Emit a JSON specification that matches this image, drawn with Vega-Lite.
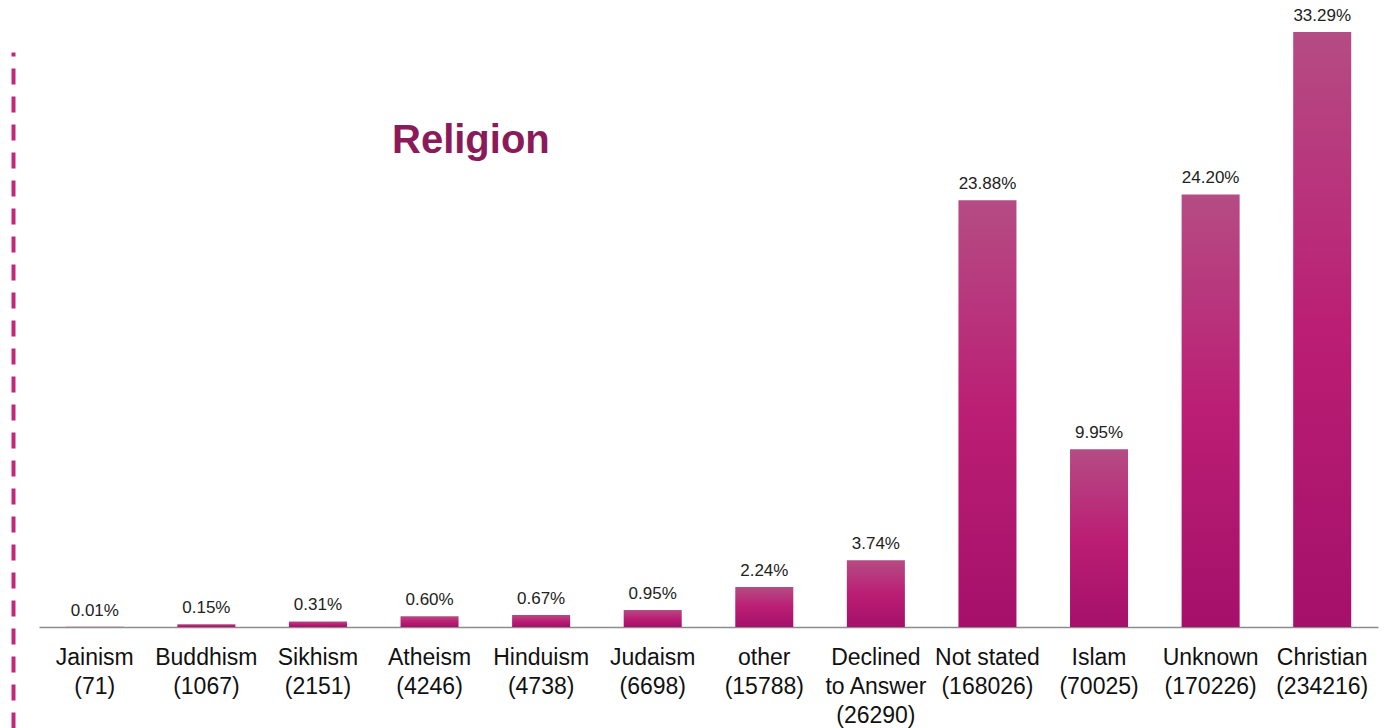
{
  "$schema": "https://vega.github.io/schema/vega-lite/v6.json",
  "width": 1339,
  "height": 676,
  "autosize": "none",
  "padding": {"left": 39, "top": 52, "right": 10, "bottom": 0},
  "background": "white",
  "config": {"view": {"stroke": null}, "font": "Liberation Sans"},
  "title": {
    "text": "Religion",
    "fontSize": 40,
    "fontWeight": "bold",
    "color": "#8a1a5a",
    "font": "Liberation Sans",
    "frame": "group",
    "anchor": "start",
    "baseline": "alphabetic",
    "offset": 0,
    "dx": 353,
    "dy": 186
  },
  "data": {
    "values": [
      {"religion": "Jainism|(71)", "pct": 0.01, "label": "0.01%"},
      {"religion": "Buddhism|(1067)", "pct": 0.15, "label": "0.15%"},
      {"religion": "Sikhism|(2151)", "pct": 0.31, "label": "0.31%"},
      {"religion": "Atheism|(4246)", "pct": 0.60, "label": "0.60%"},
      {"religion": "Hinduism|(4738)", "pct": 0.67, "label": "0.67%"},
      {"religion": "Judaism|(6698)", "pct": 0.95, "label": "0.95%"},
      {"religion": "other|(15788)", "pct": 2.24, "label": "2.24%"},
      {"religion": "Declined|to Answer|(26290)", "pct": 3.74, "label": "3.74%"},
      {"religion": "Not stated|(168026)", "pct": 23.88, "label": "23.88%"},
      {"religion": "Islam|(70025)", "pct": 9.95, "label": "9.95%"},
      {"religion": "Unknown|(170226)", "pct": 24.20, "label": "24.20%"},
      {"religion": "Christian|(234216)", "pct": 33.29, "label": "33.29%"}
    ]
  },
  "encoding": {
    "x": {
      "field": "religion",
      "type": "nominal",
      "sort": null,
      "scale": {"paddingInner": 0.48, "paddingOuter": 0.24},
      "axis": {
        "title": null,
        "orient": "bottom",
        "offset": -101,
        "labelAngle": 0,
        "labelExpr": "split(datum.label, '|')",
        "labelFontSize": 23,
        "labelLineHeight": 29,
        "labelColor": "#111111",
        "labelPadding": 19,
        "labelBaseline": "top",
        "labelFont": "Liberation Sans",
        "ticks": false,
        "domainColor": "#8c8c8c",
        "domainWidth": 1.5,
        "labelOverlap": false
      }
    },
    "y": {
      "field": "pct",
      "type": "quantitative",
      "scale": {"domain": [-5.65, 32.17], "nice": false, "zero": false},
      "axis": {
        "title": null,
        "labels": false,
        "ticks": false,
        "grid": false,
        "offset": 26,
        "domainColor": "#c0287a",
        "domainWidth": 4,
        "domainDash": [16, 12]
      }
    }
  },
  "layer": [
    {
      "mark": {
        "type": "bar",
        "color": {
          "gradient": "linear",
          "x1": 0, "y1": 0, "x2": 0, "y2": 1,
          "stops": [
            {"offset": 0, "color": "#b54c84"},
            {"offset": 0.5, "color": "#bb1e74"},
            {"offset": 1, "color": "#a5106a"}
          ]
        }
      },
      "encoding": {"y2": {"datum": 0}}
    },
    {
      "mark": {"type": "text", "fontSize": 17, "color": "#222222", "baseline": "alphabetic", "dy": -11, "font": "Liberation Sans"},
      "encoding": {"text": {"field": "label"}}
    }
  ]
}
